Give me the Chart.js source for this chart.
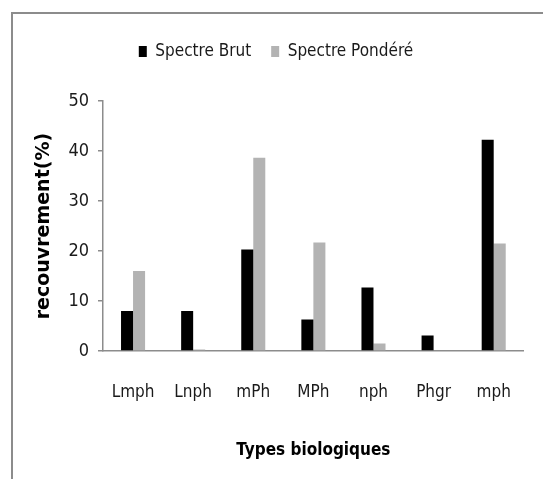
<!DOCTYPE html>
<html>
<head>
<meta charset="utf-8">
<script src="https://cdn.jsdelivr.net/npm/chart.js@4"></script>
<style>
  html, body { margin: 0; padding: 0; background: #fff; }
  #wrap { position: relative; width: 543px; height: 479px; overflow: hidden; }
  #frame {
    position: absolute; left: 11px; top: 12px; width: 600px; height: 600px;
    border-left: 2px solid #8c8c8c; border-top: 2px solid #8c8c8c;
  }
  canvas { position: absolute; left: 0; top: 0; }
</style>
</head>
<body>
<div id="wrap">
  <div id="frame"></div>
  <canvas id="chart" width="543" height="479"></canvas>
</div>
<script>
// categories and values
var categories = ['Lmph', 'Lnph', 'mPh', 'MPh', 'nph', 'Phgr', 'mph'];
var spectreBrut = [8, 8, 20.3, 6.3, 12.7, 3.1, 42.3];
var spectrePondere = [16, 0.3, 38.7, 21.7, 1.5, 0, 21.5];
var yTicks = [0, 10, 20, 30, 40, 50];

var narrow = "'DejaVu Sans Condensed', 'Liberation Sans Narrow', sans-serif";

var ctx = document.getElementById('chart');
var chart = new Chart(ctx, {
    type: 'bar',
    data: {
        labels: categories,
        datasets: [{
            label: 'Spectre Brut',
            data: spectreBrut,
            backgroundColor: '#000000',
            borderWidth: 0
        }, {
            label: 'Spectre Pondéré',
            data: spectrePondere,
            backgroundColor: '#b3b3b3',
            borderWidth: 0
        }]
    },
    options: {
        responsive: false,
        animation: false,
        layout: {
            padding: { left: 25, right: 16, top: 23, bottom: 18 }
        },
        datasets: {
            bar: { categoryPercentage: 0.4, barPercentage: 1 }
        },
        plugins: {
            tooltip: { enabled: false },
            legend: {
                position: 'top',
                labels: {
                    boxWidth: 8,
                    boxHeight: 11,
                    padding: 20,
                    color: '#1a1a1a',
                    font: { family: narrow, size: 17 }
                }
            },
            // empty spacer between the legend and the plot
            subtitle: {
                display: true,
                text: ' ',
                weight: 500,
                padding: { top: 30, bottom: 0 },
                font: { size: 1 }
            }
        },
        scales: {
            x: {
                grid: { display: false, drawTicks: false },
                border: { display: true, color: '#8c8c8c', width: 1.5 },
                ticks: {
                    color: '#1a1a1a',
                    padding: 31,
                    maxRotation: 0,
                    font: { family: narrow, size: 17 }
                },
                title: {
                    display: true,
                    text: 'Types biologiques',
                    color: '#000',
                    padding: { top: 6, bottom: 0 },
                    font: { family: narrow, size: 17, weight: 'bold' }
                },
                afterFit: function(scale) { scale.height = 110; }
            },
            y: {
                min: 0,
                max: 50,
                afterBuildTicks: function(scale) {
                    scale.ticks = yTicks.map(function(v) { return { value: v }; });
                },
                grid: {
                    display: true,
                    drawOnChartArea: false,
                    drawTicks: true,
                    tickLength: 5,
                    color: '#8c8c8c',
                    lineWidth: 1.5
                },
                border: { display: true, color: '#8c8c8c', width: 1.5 },
                ticks: {
                    color: '#1a1a1a',
                    padding: 9,
                    font: { family: narrow, size: 18 }
                },
                title: {
                    display: true,
                    text: 'recouvrement(%)',
                    color: '#000',
                    padding: { top: 8, bottom: 0 },
                    font: { family: "'DejaVu Sans', sans-serif", size: 19, weight: 'bold' }
                },
                afterFit: function(scale) { scale.width = 78; }
            }
        }
    }
});
</script>
</body>
</html>
